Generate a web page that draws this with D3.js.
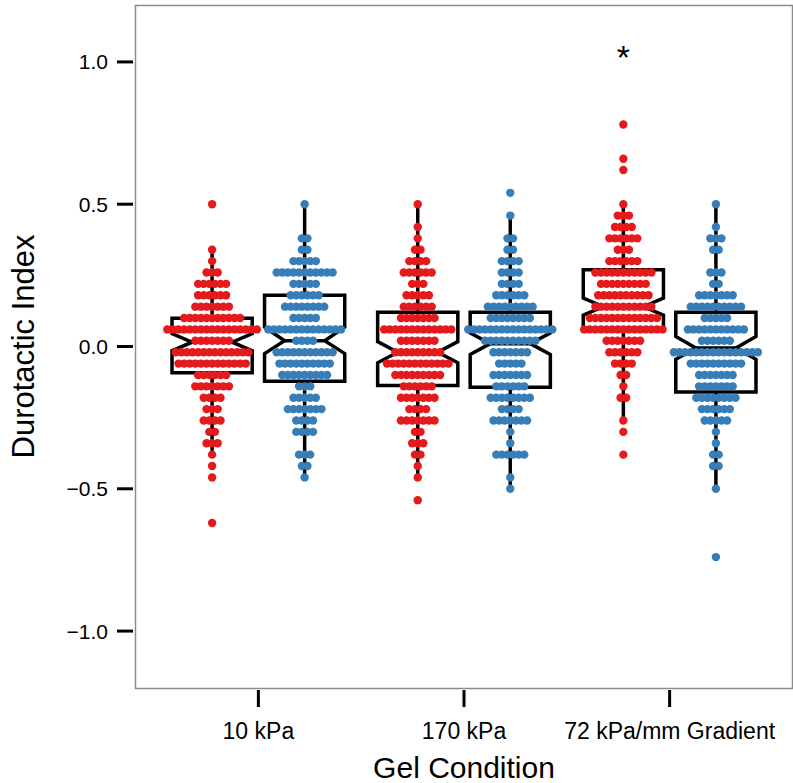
<!DOCTYPE html>
<html><head><meta charset="utf-8">
<script src="https://cdn.jsdelivr.net/npm/d3@7"></script>
<style>body{margin:0;background:#fff}svg{display:block}</style>
</head><body><svg id="c" width="793" height="783"></svg>
<script>
// ---------- data ----------
const categories = ["10 kPa", "170 kPa", "72 kPa/mm Gradient"];
const seriesColors = ["#E41A1C", "#377EB8"];   // red, blue
const yTicks = [-1.0, -0.5, 0.0, 0.5, 1.0];

// dot rows: [binned value, number of dots]
const red10 = [[0.50,1],[0.34,1],[0.30,1],[0.26,3],[0.22,6],[0.18,6],[0.14,7],[0.10,11],[0.06,17],[0.02,7],
  [-0.02,14],[-0.06,13],[-0.10,6],[-0.14,7],[-0.18,4],[-0.22,3],[-0.26,4],[-0.30,2],[-0.34,3],[-0.38,1],[-0.42,1],[-0.46,1],[-0.62,1]];
const blue10 = [[0.50,1],[0.38,2],[0.34,2],[0.30,5],[0.26,11],[0.22,5],[0.18,6],[0.14,8],[0.10,5],[0.06,14],[0.02,4],
  [-0.02,11],[-0.06,10],[-0.10,9],[-0.14,3],[-0.18,5],[-0.22,7],[-0.26,4],[-0.30,4],[-0.38,3],[-0.42,2],[-0.46,1]];
const red170 = [[0.50,1],[0.42,1],[0.38,1],[0.34,2],[0.30,4],[0.26,6],[0.22,3],[0.18,5],[0.14,6],[0.10,7],[0.06,13],[0.02,7],
  [-0.02,9],[-0.06,12],[-0.10,9],[-0.14,6],[-0.18,7],[-0.22,4],[-0.26,7],[-0.30,2],[-0.34,3],[-0.38,2],[-0.42,1],[-0.46,1],[-0.54,1]];
const blue170 = [[0.54,1],[0.46,1],[0.38,2],[0.34,2],[0.30,4],[0.26,4],[0.22,4],[0.18,6],[0.14,9],[0.10,8],[0.06,16],[0.02,10],
  [-0.02,7],[-0.06,5],[-0.10,7],[-0.14,6],[-0.18,8],[-0.22,4],[-0.26,7],[-0.30,1],[-0.34,1],[-0.38,6],[-0.46,1],[-0.50,1]];
const redGrad = [[0.78,1],[0.66,1],[0.62,1],[0.50,1],[0.46,3],[0.42,4],[0.38,6],[0.34,3],[0.30,6],[0.26,11],[0.22,9],[0.18,10],
  [0.14,11],[0.10,13],[0.06,15],[0.02,7],[-0.02,6],[-0.06,4],[-0.10,2],[-0.14,1],[-0.18,2],[-0.26,1],[-0.30,1],[-0.38,1]];
const blueGrad = [[0.50,1],[0.42,1],[0.38,3],[0.34,2],[0.26,3],[0.22,2],[0.18,7],[0.14,10],[0.10,5],[0.06,11],[0.02,6],
  [-0.02,16],[-0.06,10],[-0.10,7],[-0.14,7],[-0.18,8],[-0.22,6],[-0.26,5],[-0.30,1],[-0.34,1],[-0.38,2],[-0.42,2],[-0.50,1],[-0.74,1]];

// box statistics, order: red10, blue10, red170, blue170, redGrad, blueGrad
const boxQ1      = [-0.092, -0.122, -0.137, -0.143, 0.063, -0.160];
const boxMedian  = [ 0.015,  0.020, -0.020,  0.010, 0.140, -0.005];
const boxQ3      = [ 0.099,  0.180,  0.120,  0.120, 0.270,  0.120];
const notchLow   = [-0.015, -0.025, -0.057, -0.028, 0.110, -0.045];
const notchHigh  = [ 0.045,  0.068,  0.017,  0.048, 0.170,  0.035];
const whiskerLow = [-0.38, -0.46, -0.46, -0.50, -0.25, -0.50];
const whiskerHigh= [ 0.34,  0.50,  0.50,  0.46,  0.50,  0.50];

const groupRows = [red10, blue10, red170, blue170, redGrad, blueGrad];
const groupCategory = [0, 0, 1, 1, 2, 2];
const groupSeries = [0, 1, 0, 1, 0, 1];
const significance = [{category: 2, series: 0, value: 1.0, label: "*"}];

// ---------- layout ----------
const W = 793, H = 783;
const panel = {left: 135, right: 793, top: 5, bottom: 688};
const svg = d3.select("#c");
const FONT = "'Liberation Sans', Arial, Helvetica, sans-serif";

const x = d3.scaleLinear().domain([0.4, 3.6]).range([panel.left, panel.right]);
const y = d3.scaleLinear().domain([-1.2, 1.2]).range([panel.bottom, panel.top]);
const dodge = 0.225;        // in category units
const boxHalf = 0.195;      // in category units
const dotR = 4.2, dotStep = 5.6;

function groupX(i) {
  return x(groupCategory[i] + 1 + (groupSeries[i] === 0 ? -dodge : dodge));
}

// panel border
svg.append("rect")
  .attr("x", panel.left + 0.5).attr("y", panel.top + 0.5)
  .attr("width", panel.right - panel.left - 1).attr("height", panel.bottom - panel.top)
  .attr("fill", "none").attr("stroke", "#8c8c8c").attr("stroke-width", 1.5);

// boxes
groupRows.forEach((rows, i) => {
  const cx = groupX(i);
  const hw = x(boxHalf) - x(0);
  const nw = hw * 0.5;
  const g = svg.append("g");
  g.append("line").attr("x1", cx).attr("x2", cx)
    .attr("y1", y(whiskerHigh[i])).attr("y2", y(boxQ3[i]))
    .attr("stroke", "#000").attr("stroke-width", 3.5);
  g.append("line").attr("x1", cx).attr("x2", cx)
    .attr("y1", y(boxQ1[i])).attr("y2", y(whiskerLow[i]))
    .attr("stroke", "#000").attr("stroke-width", 3.5);
  const pts = [
    [cx - hw, y(boxQ3[i])], [cx + hw, y(boxQ3[i])], [cx + hw, y(notchHigh[i])],
    [cx + nw, y(boxMedian[i])], [cx + hw, y(notchLow[i])], [cx + hw, y(boxQ1[i])],
    [cx - hw, y(boxQ1[i])], [cx - hw, y(notchLow[i])], [cx - nw, y(boxMedian[i])],
    [cx - hw, y(notchHigh[i])]
  ];
  g.append("path").attr("d", d3.line()(pts) + "Z")
    .attr("fill", "none").attr("stroke", "#000").attr("stroke-width", 3.5)
    .attr("stroke-linejoin", "miter");
  g.append("line").attr("x1", cx - nw).attr("x2", cx + nw)
    .attr("y1", y(boxMedian[i])).attr("y2", y(boxMedian[i]))
    .attr("stroke", "#000").attr("stroke-width", 3.5);
});

// dots
groupRows.forEach((rows, i) => {
  const cx = groupX(i);
  const dots = [];
  rows.forEach(([v, n]) => {
    for (let k = 0; k < n; k++) dots.push({v, off: (k - (n - 1) / 2) * dotStep});
  });
  svg.append("g").selectAll("circle").data(dots).join("circle")
    .attr("cx", d => cx + d.off).attr("cy", d => y(d.v)).attr("r", dotR)
    .attr("fill", seriesColors[groupSeries[i]]);
});

// significance mark
significance.forEach(s => {
  svg.append("text").attr("x", x(s.category + 1 + (s.series === 0 ? -dodge : dodge)))
    .attr("y", y(s.value) + 7).attr("text-anchor", "middle")
    .attr("font-family", FONT).attr("font-size", 34).text(s.label);
});

// y axis
const yAxis = svg.append("g");
yTicks.forEach(t => {
  yAxis.append("line").attr("x1", panel.left - 18).attr("x2", panel.left - 2)
    .attr("y1", y(t)).attr("y2", y(t)).attr("stroke", "#000").attr("stroke-width", 3);
  yAxis.append("text").attr("x", panel.left - 27).attr("y", y(t)).attr("dy", "0.36em")
    .attr("text-anchor", "end").attr("font-family", FONT).attr("font-size", 21)
    .text(d3.format(".1f")(t).replace("-", "\u2212"));
});
svg.append("text").attr("transform", `translate(34,${(panel.top + panel.bottom) / 2}) rotate(-90)`)
  .attr("text-anchor", "middle").attr("font-family", FONT).attr("font-size", 31)
  .text("Durotactic Index");

// x axis
const xAxis = svg.append("g");
categories.forEach((c, i) => {
  xAxis.append("line").attr("x1", x(i + 1)).attr("x2", x(i + 1))
    .attr("y1", panel.bottom + 2).attr("y2", panel.bottom + 19)
    .attr("stroke", "#000").attr("stroke-width", 3);
  xAxis.append("text").attr("x", x(i + 1)).attr("y", panel.bottom + 51)
    .attr("text-anchor", "middle").attr("font-family", FONT).attr("font-size", 23).text(c);
});
svg.append("text").attr("x", (panel.left + panel.right) / 2).attr("y", H - 5)
  .attr("text-anchor", "middle").attr("font-family", FONT).attr("font-size", 30)
  .text("Gel Condition");
</script></body></html>
